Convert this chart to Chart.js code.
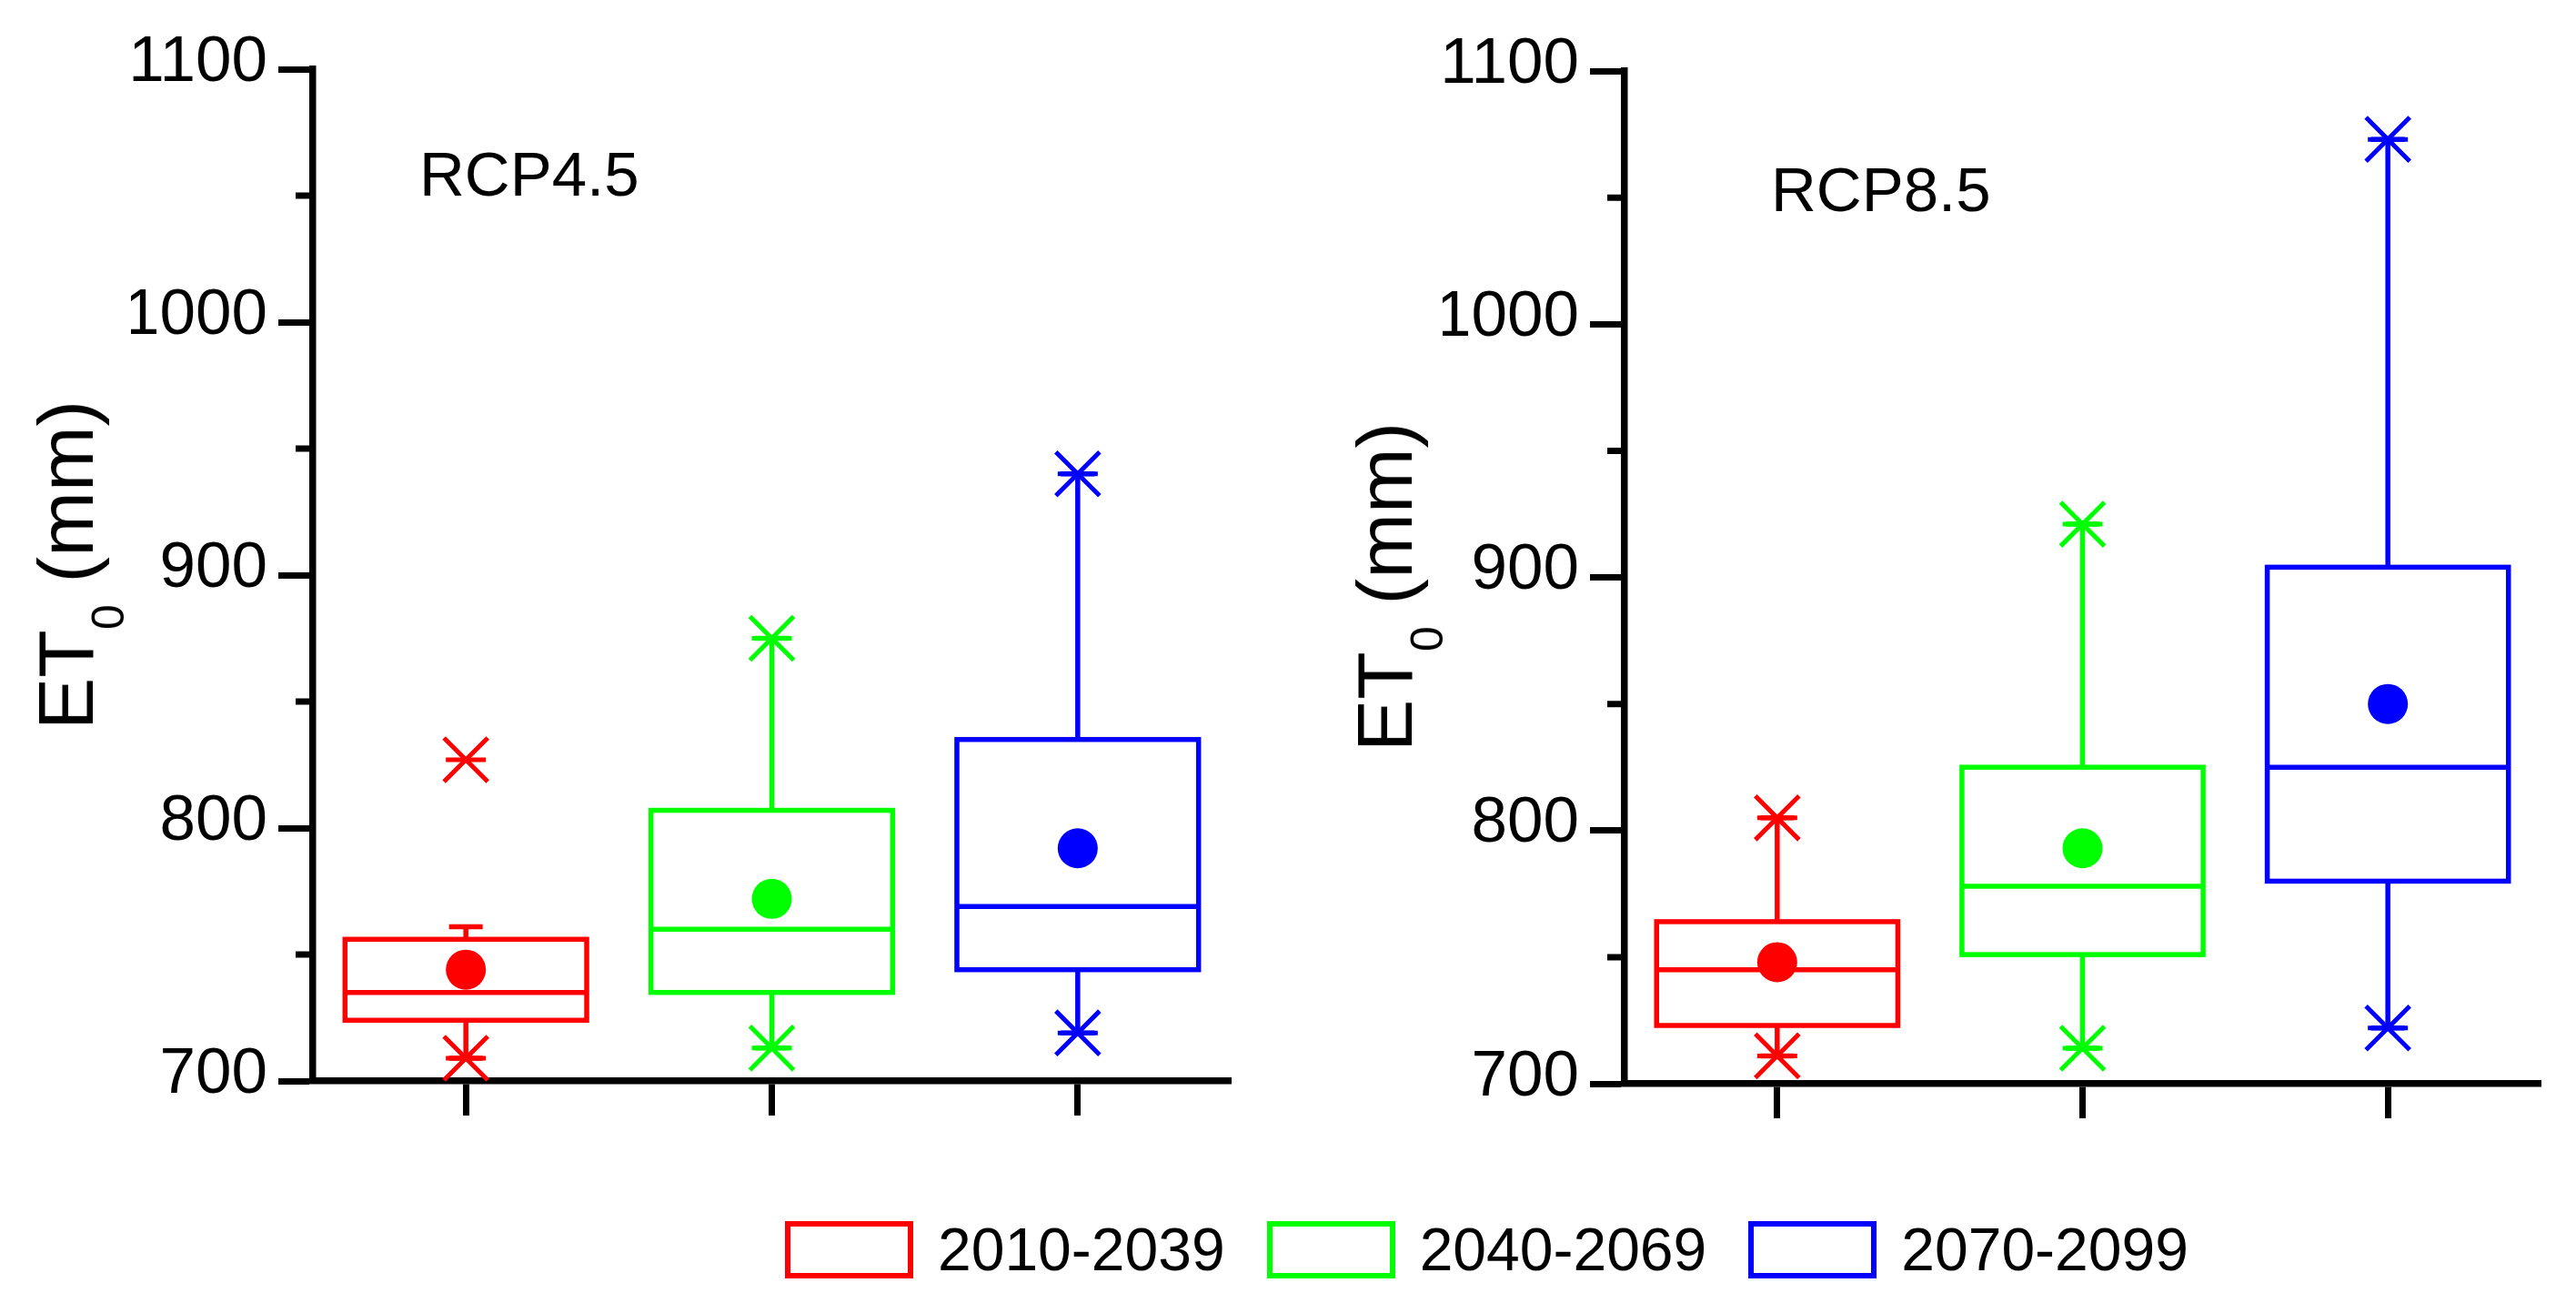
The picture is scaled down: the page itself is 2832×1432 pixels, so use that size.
<!DOCTYPE html>
<html>
<head>
<meta charset="utf-8">
<script src="https://cdn.jsdelivr.net/npm/chart.js@4.4.1/dist/chart.umd.min.js"></script>
<style>
  html, body { margin: 0; padding: 0; background: #fff; }
  body { width: 2832px; height: 1432px; position: relative; overflow: hidden;
         font-family: "Liberation Sans", Arial, sans-serif; color: #000; }
  canvas { position: absolute; top: 0; }
  #c45 { left: 0; }
  #c85 { left: 1416px; }
  .ylab { position: absolute; font-size: 86px; line-height: 86px; white-space: nowrap;
          transform: translate(-50%, -50%) rotate(-90deg); }
  .ylab sub { font-size: 50px; line-height: 0; vertical-align: baseline; position: relative; top: 34px; }
  .panel-title { position: absolute; font-size: 69px; line-height: 69px; white-space: nowrap; }
  #legend { position: absolute; left: 863px; top: 1340px; display: flex; align-items: center; }
  .item { display: flex; align-items: center; margin-right: 46px; }
  .swatch { width: 141px; height: 63px; box-sizing: border-box; border: 6px solid; margin-right: 27px; }
  .item span { font-size: 66px; line-height: 66px; }
</style>
</head>
<body>
<canvas id="c45" width="1416" height="1432"></canvas>
<canvas id="c85" width="1416" height="1432"></canvas>

<div class="ylab" style="left:72px; top:621px;">ET<sub>0</sub> (mm)</div>
<div class="ylab" style="left:1522px; top:645px;">ET<sub>0</sub> (mm)</div>
<div class="panel-title" style="left:461px; top:157px;">RCP4.5</div>
<div class="panel-title" style="left:1947px; top:174px;">RCP8.5</div>
<div id="legend"></div>

<script>
// periods and colours
const periods = ['2010-2039', '2040-2069', '2070-2099'];
const colors = ['#ff0000', '#00ff00', '#0000ff'];

// y axis
const yMin = 700;
const yMax = 1100;
const yMajor = [700, 800, 900, 1000, 1100];
const yMinor = [750, 850, 950, 1050];

// RCP4.5 box statistics (mm)
const q1_45 = [724, 735, 744];
const med_45 = [735, 760, 769];
const q3_45 = [756, 807, 835];
const mean_45 = [744, 772, 792];
const whiskLo_45 = [709, 713, 719];
const whiskHi_45 = [761, 875, 940];
const markLo_45 = [709, 713, 719];
const markHi_45 = [827, 875, 940];

// RCP8.5 box statistics (mm)
const q1_85 = [723, 751, 780];
const med_85 = [745, 778, 825];
const q3_85 = [764, 825, 904];
const mean_85 = [748, 793, 850];
const whiskLo_85 = [711, 714, 722];
const whiskHi_85 = [805, 921, 1073];
const markLo_85 = [711, 714, 722];
const markHi_85 = [805, 921, 1073];

const BOX_W = 0.79;   // box width in category units
const CAP_W = 0.11;   // whisker cap width

// draws boxes, medians and whiskers from the stats through the chart scales
const boxPlugin = {
  id: 'boxes',
  beforeDatasetsDraw(chart, args, opts) {
    const { ctx, scales: { x, y } } = chart;
    const s = opts.stats;
    ctx.save();
    ctx.lineWidth = 5.5;
    ctx.lineCap = 'butt';
    periods.forEach((p, i) => {
      const c = i + 1;
      const xl = x.getPixelForValue(c - BOX_W / 2);
      const xr = x.getPixelForValue(c + BOX_W / 2);
      const xc = x.getPixelForValue(c);
      const cl = x.getPixelForValue(c - CAP_W / 2);
      const cr = x.getPixelForValue(c + CAP_W / 2);
      const yq1 = y.getPixelForValue(s.q1[i]);
      const yq3 = y.getPixelForValue(s.q3[i]);
      const ym = y.getPixelForValue(s.med[i]);
      const ylo = y.getPixelForValue(s.lo[i]);
      const yhi = y.getPixelForValue(s.hi[i]);
      ctx.strokeStyle = colors[i];
      ctx.beginPath();
      // whiskers
      ctx.moveTo(xc, yq3); ctx.lineTo(xc, yhi);
      ctx.moveTo(xc, yq1); ctx.lineTo(xc, ylo);
      // caps
      ctx.moveTo(cl, yhi); ctx.lineTo(cr, yhi);
      ctx.moveTo(cl, ylo); ctx.lineTo(cr, ylo);
      // median
      ctx.moveTo(xl, ym); ctx.lineTo(xr, ym);
      ctx.stroke();
      ctx.strokeRect(xl, yq3, xr - xl, yq1 - yq3);
    });
    ctx.restore();
  },
  afterDraw(chart) {
    // shorter minor ticks on the y axis
    const { ctx, chartArea, scales: { y } } = chart;
    ctx.save();
    ctx.strokeStyle = '#000';
    ctx.lineWidth = 7;
    ctx.beginPath();
    yMinor.forEach(v => {
      const py = y.getPixelForValue(v);
      ctx.moveTo(chartArea.left - 19, py);
      ctx.lineTo(chartArea.left, py);
    });
    ctx.stroke();
    ctx.restore();
  }
};

function points(vals) {
  return vals.map((v, i) => ({ x: i + 1, y: v }));
}

function makePanel(id, stats, pad) {
  const marks = points(stats.markLo).concat(points(stats.markHi));
  const markColors = colors.concat(colors);
  new Chart(document.getElementById(id), {
    type: 'scatter',
    data: {
      datasets: [
        {
          label: 'mean',
          data: points(stats.mean),
          pointStyle: 'circle',
          pointRadius: 22,
          pointBackgroundColor: colors,
          pointBorderWidth: 0,
          clip: false
        },
        {
          label: 'extremes',
          data: marks,
          pointStyle: 'crossRot',
          pointRadius: 34,
          pointBorderColor: markColors,
          pointBorderWidth: 5,
          clip: false
        },
        {
          label: 'extremes dash',
          data: marks,
          pointStyle: 'line',
          pointRadius: 22,
          pointBorderColor: markColors,
          pointBorderWidth: 5,
          clip: false
        }
      ]
    },
    options: {
      responsive: false,
      animation: false,
      events: [],
      layout: { padding: pad },
      plugins: {
        legend: { display: false },
        tooltip: { enabled: false },
        boxes: { stats: stats }
      },
      scales: {
        x: {
          type: 'linear',
          min: 0.5,
          max: 3.5,
          afterBuildTicks: scale => { scale.ticks = periods.map((p, i) => ({ value: i + 1 })); },
          afterFit: scale => { scale.height = 60; },
          ticks: { display: false },
          grid: { drawOnChartArea: false, tickLength: 38, tickWidth: 7, tickColor: '#000' },
          border: { display: true, color: '#000', width: 7.5 }
        },
        y: {
          type: 'linear',
          min: yMin,
          max: yMax,
          afterBuildTicks: scale => { scale.ticks = yMajor.map(v => ({ value: v })); },
          afterFit: scale => { scale.width = 200; },
          ticks: {
            padding: 12,
            labelOffset: -7,
            color: '#000',
            callback: v => String(v),
            font: { family: '"Liberation Sans", Arial, sans-serif', size: 71 }
          },
          grid: { drawOnChartArea: false, tickLength: 38, tickWidth: 7, tickColor: '#000' },
          border: { display: true, color: '#000', width: 7.5 }
        }
      }
    },
    plugins: [boxPlugin]
  });
}

makePanel('c45', {
  q1: q1_45, med: med_45, q3: q3_45, mean: mean_45,
  lo: whiskLo_45, hi: whiskHi_45, markLo: markLo_45, markHi: markHi_45
}, { left: 144, right: 63, top: 76, bottom: 184 });

makePanel('c85', {
  q1: q1_85, med: med_85, q3: q3_85, mean: mean_85,
  lo: whiskLo_85, hi: whiskHi_85, markLo: markLo_85, markHi: markHi_85
}, { left: 170, right: 36, top: 78, bottom: 181 });

// legend
const legend = document.getElementById('legend');
periods.forEach((p, i) => {
  const item = document.createElement('div');
  item.className = 'item';
  const sw = document.createElement('div');
  sw.className = 'swatch';
  sw.style.borderColor = colors[i];
  const txt = document.createElement('span');
  txt.textContent = p;
  item.appendChild(sw);
  item.appendChild(txt);
  legend.appendChild(item);
});
</script>
</body>
</html>
